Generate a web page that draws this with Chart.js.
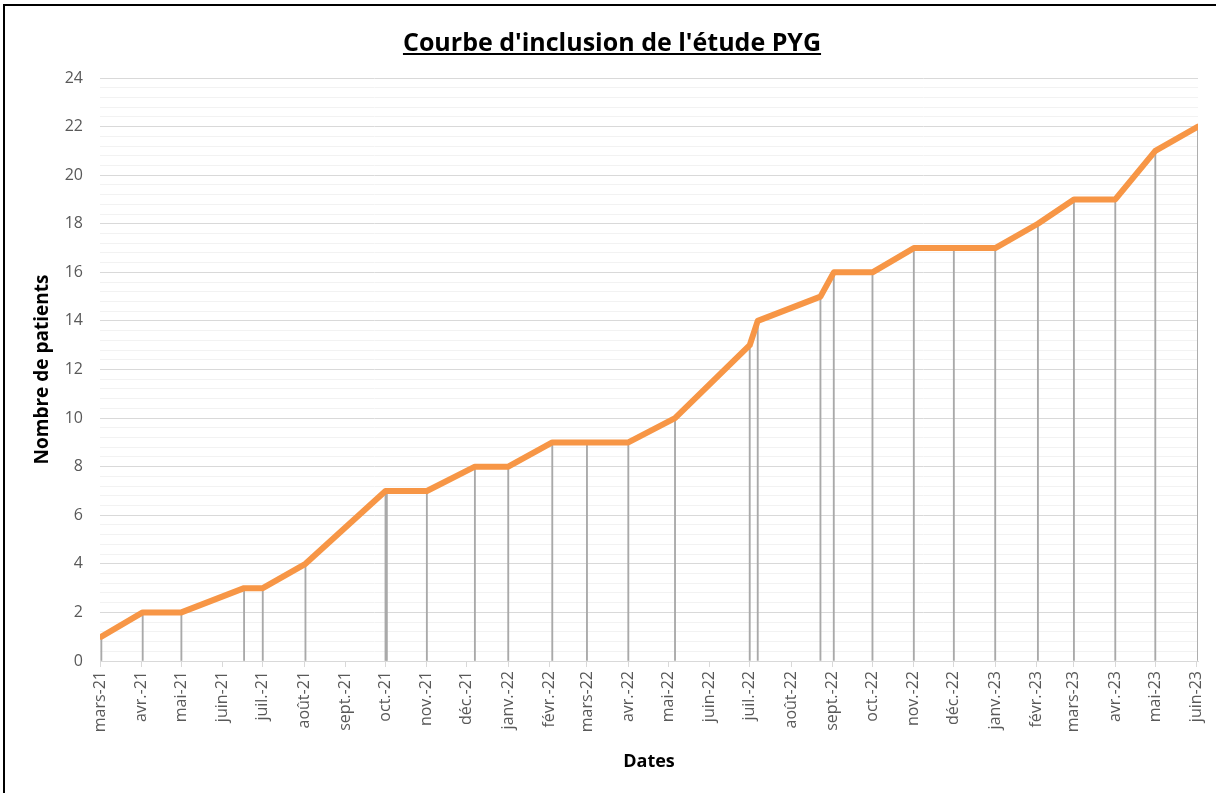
<!DOCTYPE html>
<html lang="fr">
<head>
<meta charset="utf-8">
<title>Courbe d'inclusion de l'étude PYG</title>
<script src="https://cdn.jsdelivr.net/npm/chart.js@4.4.1/dist/chart.umd.min.js"></script>
<style>
  html, body { margin: 0; padding: 0; background: #fff; overflow: hidden; }
  #cadre {
    position: absolute; left: 3px; top: 4px; width: 1230px; height: 810px;
    border: 2px solid #000; box-sizing: border-box;
  }
  #titre {
    position: absolute; left: 4px; top: 24px; width: 1216px; text-align: center;
    font-family: "Open Sans", sans-serif; font-weight: bold; font-size: 25px;
    text-decoration: underline; color: #000; line-height: 34px;
  }
  #zone { position: absolute; left: 0; top: 0; width: 1216px; height: 793px; }
</style>
</head>
<body>
<div id="cadre"></div>
<div id="zone"><canvas id="courbe"></canvas></div>
<div id="titre">Courbe d'inclusion de l'étude PYG</div>
<script>
// Dates d'inclusion et nombre cumulé de patients
const datesInclusion = [
  '2021-03-02', '2021-04-02', '2021-05-01', '2021-06-17', '2021-07-01', '2021-08-02',
  '2021-10-01', '2021-10-02', '2021-11-01', '2021-12-07', '2022-01-01', '2022-02-03',
  '2022-03-01', '2022-04-01', '2022-05-06', '2022-07-01', '2022-07-07', '2022-08-23',
  '2022-09-02', '2022-10-01', '2022-11-01', '2022-12-01', '2023-01-01', '2023-02-02',
  '2023-03-01', '2023-04-01', '2023-05-01', '2023-06-02'
];
const nbPatients = [
  1, 2, 2, 3, 3, 4,
  7, 7, 7, 8, 8, 9,
  9, 9, 10, 13, 14, 15,
  16, 16, 17, 17, 17, 18,
  19, 19, 21, 22
];

// Axe des dates : un repère par mois
const moisCourts = ['janv.', 'févr.', 'mars', 'avr.', 'mai', 'juin', 'juil.', 'août', 'sept.', 'oct.', 'nov.', 'déc.'];
const debutAxe = '2021-03-01';
const finAxe = '2023-06-02';
const dernierMois = '2023-06-01';

function versTemps(s) {
  const p = s.split('-').map(Number);
  return Date.UTC(p[0], p[1] - 1, p[2]);
}

const reperesMois = [];
{
  const d = new Date(versTemps(debutAxe));
  const fin = versTemps(dernierMois);
  while (d.getTime() <= fin) {
    reperesMois.push(d.getTime());
    d.setUTCMonth(d.getUTCMonth() + 1);
  }
}

const points = datesInclusion.map((s, i) => ({ x: versTemps(s), y: nbPatients[i] }));

const grisTexte = '#595959';
const police = '"Open Sans", sans-serif';

new Chart(document.getElementById('courbe'), {
  type: 'line',
  data: {
    datasets: [
      {
        type: 'line',
        label: 'Patients inclus',
        data: points,
        borderColor: '#F79646',
        borderWidth: 6,
        borderJoinStyle: 'round',
        borderCapStyle: 'round',
        pointRadius: 0,
        tension: 0,
        order: 1
      },
      {
        // lignes de projection vers l'axe des dates
        type: 'bar',
        label: 'Projection',
        data: points,
        backgroundColor: '#a9a9a9',
        barThickness: 1.2,
        order: 2
      }
    ]
  },
  options: {
    responsive: true,
    maintainAspectRatio: false,
    animation: false,
    layout: { padding: { left: 30, right: 18, top: 78, bottom: 20 } },
    plugins: {
      legend: { display: false },
      tooltip: { enabled: false },
      title: { display: false }
    },
    scales: {
      x: {
        type: 'linear',
        offset: false,
        min: versTemps(debutAxe),
        max: versTemps(finAxe),
        afterBuildTicks: (s) => { s.ticks = reperesMois.map(v => ({ value: v })); },
        afterFit: (s) => {
          s.height = 112;
          // les étiquettes verticales ne doivent pas rogner la zone de tracé
          s.paddingLeft = 0;
          s.paddingRight = 0;
        },
        grid: { offset: false, drawOnChartArea: false, drawTicks: true, tickLength: 6, color: '#d9d9d9' },
        border: { display: true, color: '#d9d9d9', width: 1 },
        ticks: {
          autoSkip: false,
          minRotation: 90,
          maxRotation: 90,
          padding: 4,
          color: grisTexte,
          font: { family: police, size: 16 },
          callback: (v) => {
            const d = new Date(v);
            return moisCourts[d.getUTCMonth()] + '-' + String(d.getUTCFullYear()).slice(2);
          }
        },
        title: {
          display: true,
          text: 'Dates',
          color: '#000',
          font: { family: police, size: 18, weight: 'bold' },
          padding: { top: 0, bottom: 0 }
        }
      },
      y: {
        min: 0,
        max: 24,
        afterFit: (s) => { s.width = 70; },
        grid: {
          drawTicks: false,
          color: (c) => {
            const v = Math.round(c.tick.value * 10);
            return v % 20 === 0 ? '#d9d9d9' : '#f2f2f2';
          },
          lineWidth: 1
        },
        border: { display: false },
        ticks: {
          stepSize: 0.4,
          autoSkip: false,
          padding: 17,
          color: grisTexte,
          font: { family: police, size: 16 },
          callback: (v) => {
            const r = Math.round(v * 10);
            return r % 20 === 0 ? String(r / 10) : '';
          }
        },
        title: {
          display: true,
          text: 'Nombre de patients',
          color: '#000',
          font: { family: police, size: 19, weight: 'bold' },
          padding: { top: 1, bottom: 0 }
        }
      }
    }
  }
});
</script>
</body>
</html>
